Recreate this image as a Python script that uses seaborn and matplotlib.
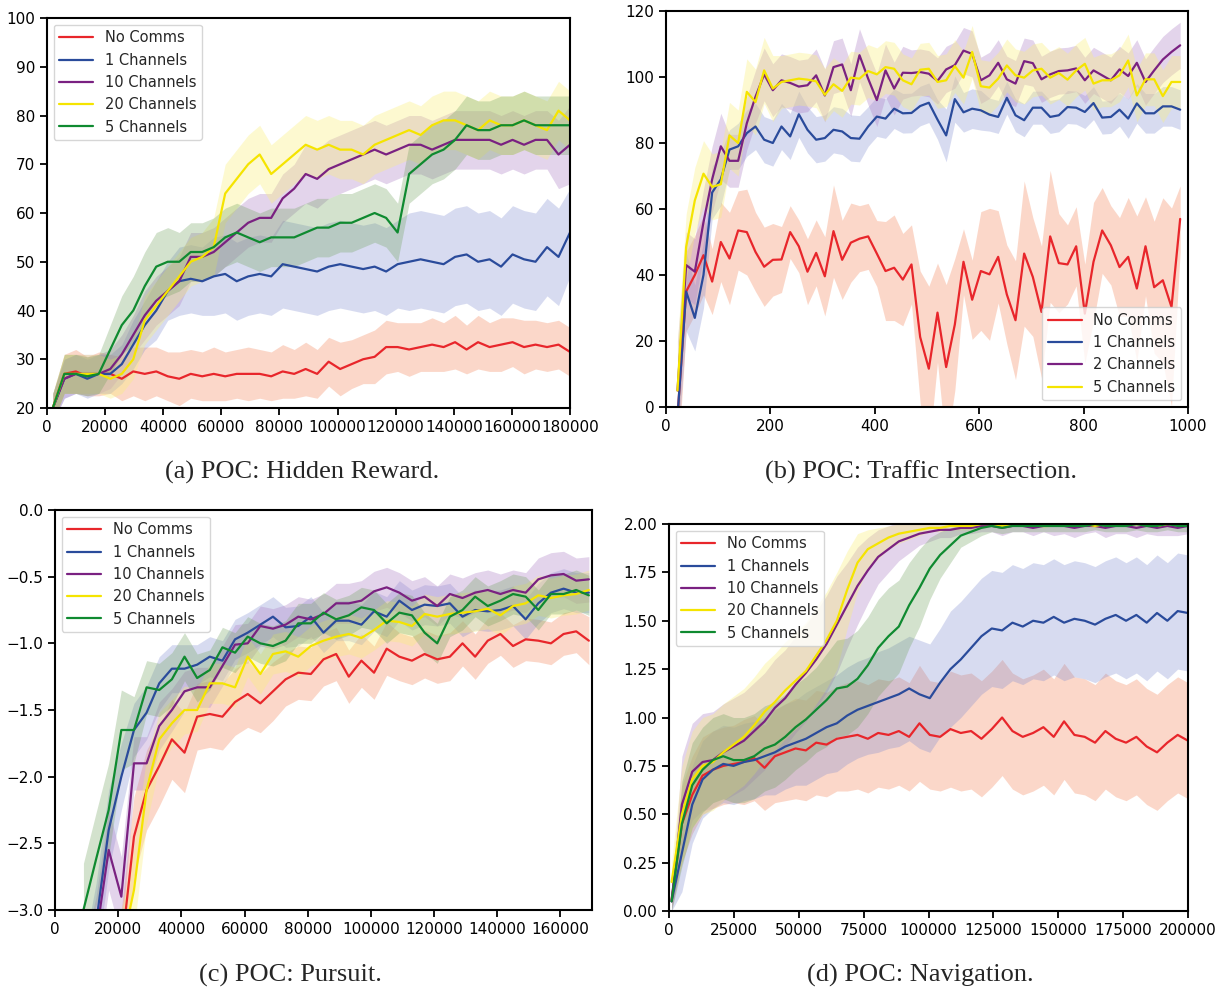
import numpy as np
import pandas as pd
import matplotlib
matplotlib.use("Agg")
import matplotlib.pyplot as plt
import seaborn as sns

# ---------------- data ----------------
# (a) Hidden Reward
x_a = np.linspace(2000, 180000, 46)
names_a = ["No Comms", "1 Channels", "10 Channels", "20 Channels", "5 Channels"]
red_a = [20, 27, 27.5, 26.5, 27, 27, 26, 27.5, 27, 27.5, 26.5, 26, 27, 26.5, 27, 26.5,
         27, 27, 27, 26.5, 27.5, 27, 28, 27, 29.5, 28, 29, 30, 30.5, 32.5, 32.5, 32,
         32.5, 33, 32.5, 33.5, 32, 33.5, 32.5, 33, 33.5, 32.5, 33, 32.5, 33, 31.5]
blue_a = [20, 26, 27, 26, 27, 27, 29, 33, 37, 40, 44, 46, 46.5, 46, 47, 47.5,
          46, 47, 47.5, 47, 49.5, 49, 48.5, 48, 49, 49.5, 49, 48.5, 49, 48, 49.5, 50,
          50.5, 50, 49.5, 51, 51.5, 50, 50.5, 49, 51.5, 50.5, 50, 53, 51, 56]
purple_a = [20, 26, 27, 27, 27, 28, 31, 35, 39, 42, 44, 46, 51, 51, 52, 54,
            56, 58, 59, 59, 63, 65, 68, 67, 69, 70, 71, 72, 73, 72, 73, 74,
            74, 73, 74, 75, 75, 75, 75, 74, 75, 74, 75, 75, 72, 74]
yellow_a = [20, 27, 27, 27, 27, 26, 27, 30, 38, 41, 44, 47, 50, 51, 53, 64,
            67, 70, 72, 68, 70, 72, 74, 73, 74, 73, 73, 72, 74, 75, 76, 77,
            76, 78, 79, 79, 78, 77, 79, 78, 78, 79, 78, 77, 81, 79]
green_a = [20, 27, 27, 26.5, 27, 32, 37, 40, 45, 49, 50, 50, 52, 52, 53, 55,
           56, 55, 54, 55, 55, 55, 56, 57, 57, 58, 58, 59, 60, 59, 56, 68,
           70, 72, 73, 75, 78, 77, 77, 78, 78, 79, 78, 78, 78, 78]
red_sd_a = [3, 4, 4.5, 4, 4.5, 4, 4.5, 5, 5.5, 5, 5, 5.5, 5, 5, 5.5, 5,
            5, 5.5, 5, 5, 5.5, 5, 5.5, 5, 5, 5.5, 5, 5, 5.5, 5.5, 5, 5.5,
            5, 5.5, 5, 5.5, 5, 5.5, 5, 5.5, 5, 5.5, 5, 5, 5, 5]
blue_sd_a = [3, 4, 4, 4, 4, 4, 4, 5, 5, 6, 6, 7, 7, 7, 8, 8,
             8, 8, 8, 8, 9, 9, 9, 9, 9, 9, 9, 9, 9, 9, 9, 10,
             10, 10, 10, 10, 10, 10, 10, 10, 10, 10, 10, 10, 10, 9]
purple_sd_a = [3, 4, 4, 4, 4, 4, 4, 4, 5, 5, 5, 5, 5, 5, 5, 5,
               5, 5, 5, 5, 5, 5, 6, 6, 6, 6, 6, 6, 6, 6, 6, 6,
               6, 6, 6, 6, 6, 6, 6, 6, 6, 6, 6, 6, 7, 8]
yellow_sd_a = [3, 4, 4, 4, 4, 4, 4, 4, 5, 5, 5, 5, 5, 5, 6, 6,
               6, 6, 6, 6, 6, 6, 6, 6, 6, 6, 6, 6, 6, 6, 6, 6,
               6, 6, 6, 6, 6, 6, 6, 6, 6, 6, 6, 6, 6, 6]
green_sd_a = [3, 4, 4, 4, 4, 5, 6, 7, 7, 7, 7, 6, 6, 6, 6, 6,
              6, 6, 6, 6, 6, 6, 6, 6, 6, 6, 6, 6, 6, 6, 6, 6,
              6, 6, 6, 6, 6, 6, 6, 6, 6, 6, 6, 6, 6, 6]

# (b) Traffic Intersection
x_b = np.linspace(22, 985, 59)
names_b = ["No Comms", "1 Channels", "2 Channels", "5 Channels"]
red_b = [-3, 35, 40, 46, 38, 50, 45, 53.5, 53, 47, 42.5, 44.6, 44.7, 53, 48.7, 41,
         46.7, 39.6, 53.3, 44.6, 49.8, 51, 51.7, 46.5, 41.2, 42.2, 38.6, 43.2, 21.2, 11.6,
         28.6, 12.1, 25, 44, 32.5, 41.2, 40.2, 45.5, 34.1, 26.3, 46.5, 39.4, 28.8, 51.7,
         43.6, 43.2, 48.7, 28.3, 44, 53.5, 49, 42.4, 45.5, 35.9, 48.7, 36.3, 38.4, 30.3, 57]
blue_b = [-3, 35, 27, 40, 65, 69, 78, 79, 83, 85, 81, 80, 85, 82, 88.7, 84,
          81, 81.5, 84, 83.5, 81.5, 81.3, 85, 88, 87.4, 90.4, 89, 89.1, 91.2, 92.2,
          87.1, 82.3, 93.3, 89.3, 90.4, 89.9, 88.6, 87.9, 93.7, 88.4, 86.9, 90.7, 90.7, 87.9,
          88.4, 90.9, 90.7, 89.4, 92.1, 87.7, 87.9, 90.1, 87.4, 92, 89, 89, 91.1, 91.1, 90.1]
purple_b = [5, 43, 41, 56, 69, 79, 74.6, 74.6, 86, 94, 100.8, 96, 99, 98.2, 97.1, 97.5,
            100.5, 94.4, 103, 103.8, 96, 106.6, 99.5, 93, 102, 96.5, 101.3, 101.2, 101.5, 101,
            98.8, 102.3, 103.6, 108, 107, 99, 100.5, 104.3, 99.3, 98, 104.8, 104.2, 99.3, 100.8,
            101.8, 102, 102.6, 99, 102, 100.5, 99, 102.3, 100.3, 104.3, 98.5, 102, 105.3, 107.6, 109.6]
yellow_b = [5, 48.5, 62.6, 70.7, 66.7, 67.5, 82.3, 80, 95.5, 92.4, 102, 96.5, 98.5, 99, 99.5, 99.2,
            98.7, 94.6, 97.8, 95.8, 99.8, 99.5, 101.8, 100.8, 103, 102.5, 99, 97.8, 102.2, 102.5,
            98.5, 99, 103.3, 99.8, 107.6, 97.2, 96.8, 99.5, 103.5, 100.5, 99.8, 102, 102.5, 99.8,
            101.2, 99.2, 102, 104, 98, 99, 99, 100.5, 105, 94.4, 99.3, 99.3, 94.2, 98.5, 98.5]
red_sd_b = [15, 12, 12, 12, 10, 12, 14, 12, 13, 12, 12, 11, 10, 8, 8, 10,
            10, 12, 14, 12, 12, 10, 10, 10, 15, 16, 14, 12, 20, 25,
            15, 25, 20, 10, 12, 18, 20, 14, 15, 18, 22, 18, 20, 20,
            15, 12, 12, 15, 18, 13, 12, 15, 18, 22, 15, 20, 25, 30, 10]
blue_sd_b = [10, 12, 10, 10, 8, 8, 6, 7, 7, 7, 7, 7, 7, 7, 7, 7,
             7, 7, 7, 7, 7, 7, 6, 6, 6, 6, 6, 6, 6, 6,
             6, 8, 7, 6, 6, 6, 5, 5, 5, 5, 5, 5, 5, 5,
             5, 5, 5, 5, 5, 5, 5, 5, 6, 6, 6, 6, 6, 6, 6]
purple_sd_b = [15, 10, 10, 10, 10, 10, 8, 8, 8, 8, 8, 8, 8, 8, 8, 8,
               8, 8, 8, 8, 8, 8, 8, 8, 8, 8, 8, 7, 7, 7,
               7, 7, 7, 7, 7, 7, 7, 7, 7, 7, 7, 7, 7, 7,
               7, 7, 7, 7, 7, 7, 7, 7, 7, 7, 7, 7, 7, 7, 7]
yellow_sd_b = [15, 10, 10, 10, 10, 10, 10, 10, 10, 10, 10, 10, 8, 8, 8, 8,
               8, 8, 8, 8, 8, 8, 8, 8, 8, 8, 8, 8, 8, 8,
               8, 8, 8, 8, 8, 8, 8, 8, 8, 8, 8, 8, 8, 8,
               8, 8, 8, 8, 8, 8, 8, 8, 8, 8, 8, 8, 8, 8, 8]

# (c) Pursuit
x_c = np.linspace(9000, 169000, 41)
names_c = ["No Comms", "1 Channels", "10 Channels", "20 Channels", "5 Channels"]
red_c = [-4.8, -4.4, -4.0, -3.3, -2.45, -2.1, -1.92, -1.72, -1.82, -1.55, -1.53, -1.55, -1.44,
         -1.38, -1.45, -1.36, -1.27, -1.22, -1.23, -1.12, -1.08, -1.25, -1.13, -1.22, -1.04,
         -1.1, -1.13, -1.08, -1.12, -1.1, -1.0, -1.1, -0.98, -0.93, -1.02, -0.97, -0.98, -1.0,
         -0.93, -0.91, -0.98]
blue_c = [-3.6, -3.1, -2.4, -2.0, -1.65, -1.52, -1.3, -1.19, -1.19, -1.16, -1.1, -1.13, -0.97,
          -0.92, -0.86, -0.8, -0.88, -0.87, -0.8, -0.92, -0.83, -0.83, -0.86, -0.76, -0.8,
          -0.68, -0.75, -0.71, -0.72, -0.7, -0.8, -0.75, -0.76, -0.75, -0.72, -0.82, -0.7,
          -0.62, -0.59, -0.62, -0.62]
purple_c = [-3.6, -3.2, -2.55, -2.9, -1.9, -1.9, -1.62, -1.5, -1.36, -1.33, -1.33, -1.17, -1.01,
            -1.0, -0.87, -0.89, -0.86, -0.8, -0.82, -0.78, -0.7, -0.7, -0.68, -0.61, -0.58,
            -0.62, -0.68, -0.65, -0.72, -0.63, -0.66, -0.62, -0.6, -0.63, -0.6, -0.62, -0.52,
            -0.49, -0.48, -0.53, -0.52]
yellow_c = [-4.5, -4.2, -3.8, -3.3, -2.85, -2.1, -1.72, -1.6, -1.5, -1.5, -1.3, -1.3, -1.33,
            -1.1, -1.23, -1.08, -1.06, -1.1, -1.02, -0.98, -0.95, -0.93, -0.96, -0.9, -0.83,
            -0.84, -0.87, -0.78, -0.8, -0.78, -0.77, -0.76, -0.74, -0.79, -0.72, -0.7, -0.64,
            -0.66, -0.64, -0.63, -0.6]
green_c = [-3.0, -2.62, -2.25, -1.65, -1.65, -1.33, -1.35, -1.27, -1.1, -1.26, -1.2, -1.03, -1.07,
           -0.95, -1.0, -1.02, -0.98, -0.85, -0.85, -0.77, -0.82, -0.79, -0.73, -0.75, -0.85,
           -0.77, -0.79, -0.92, -1.0, -0.8, -0.75, -0.65, -0.72, -0.68, -0.63, -0.65, -0.75,
           -0.63, -0.63, -0.6, -0.64]
red_sd_c = [0.3, 0.3, 0.3, 0.3, 0.3, 0.3, 0.3, 0.3, 0.3, 0.25, 0.25, 0.25, 0.25,
            0.25, 0.22, 0.22, 0.2, 0.2, 0.2, 0.2, 0.2, 0.2, 0.2, 0.2, 0.2,
            0.18, 0.18, 0.18, 0.18, 0.18, 0.17, 0.17, 0.17, 0.16, 0.16, 0.16, 0.16,
            0.16, 0.16, 0.16, 0.18]
blue_sd_c = [0.3, 0.3, 0.3, 0.25, 0.2, 0.2, 0.2, 0.18, 0.18, 0.15, 0.15, 0.15, 0.15,
             0.15, 0.15, 0.15, 0.15, 0.15, 0.15, 0.15, 0.15, 0.15, 0.15, 0.15, 0.15,
             0.15, 0.15, 0.15, 0.15, 0.15, 0.15, 0.15, 0.15, 0.15, 0.15, 0.15, 0.15,
             0.15, 0.15, 0.15, 0.15]
purple_sd_c = [0.3, 0.3, 0.3, 0.3, 0.2, 0.2, 0.18, 0.16, 0.15, 0.15, 0.15, 0.15, 0.15,
               0.15, 0.15, 0.15, 0.15, 0.15, 0.15, 0.15, 0.15, 0.15, 0.15, 0.15, 0.15,
               0.15, 0.15, 0.15, 0.15, 0.15, 0.15, 0.15, 0.15, 0.15, 0.15, 0.15, 0.16,
               0.17, 0.17, 0.17, 0.17]
yellow_sd_c = [0.3, 0.3, 0.3, 0.3, 0.3, 0.25, 0.2, 0.18, 0.18, 0.16, 0.15, 0.15, 0.15,
               0.15, 0.15, 0.15, 0.15, 0.15, 0.15, 0.15, 0.15, 0.15, 0.15, 0.15, 0.15,
               0.15, 0.15, 0.15, 0.15, 0.15, 0.15, 0.15, 0.15, 0.15, 0.15, 0.15, 0.15,
               0.15, 0.15, 0.15, 0.15]
green_sd_c = [0.35, 0.35, 0.35, 0.3, 0.25, 0.2, 0.2, 0.2, 0.18, 0.18, 0.15, 0.15, 0.15,
              0.15, 0.15, 0.15, 0.15, 0.15, 0.15, 0.15, 0.15, 0.15, 0.15, 0.15, 0.15,
              0.15, 0.15, 0.15, 0.15, 0.15, 0.15, 0.15, 0.15, 0.15, 0.15, 0.15, 0.15,
              0.15, 0.15, 0.15, 0.15]

# (d) Navigation
x_d = np.linspace(1000, 200000, 51)
names_d = ["No Comms", "1 Channels", "10 Channels", "20 Channels", "5 Channels"]
red_d = [0.06, 0.45, 0.6, 0.7, 0.73, 0.75, 0.76, 0.77, 0.79, 0.74, 0.8, 0.82, 0.84,
         0.83, 0.87, 0.86, 0.89, 0.9, 0.91, 0.89, 0.92, 0.91, 0.93, 0.9, 0.97, 0.91,
         0.9, 0.94, 0.92, 0.93, 0.89, 0.94, 1.0, 0.93, 0.9, 0.92, 0.95, 0.9, 0.98,
         0.91, 0.9, 0.87, 0.93, 0.89, 0.87, 0.9, 0.85, 0.82, 0.87, 0.91, 0.88]
blue_d = [0.05, 0.3, 0.55, 0.68, 0.73, 0.76, 0.75, 0.77, 0.78, 0.8, 0.82, 0.85, 0.87,
          0.89, 0.92, 0.95, 0.97, 1.01, 1.04, 1.06, 1.08, 1.1, 1.12, 1.15, 1.12, 1.1,
          1.18, 1.25, 1.3, 1.36, 1.42, 1.46, 1.45, 1.49, 1.47, 1.5, 1.49, 1.52, 1.49,
          1.51, 1.5, 1.48, 1.51, 1.53, 1.5, 1.53, 1.49, 1.54, 1.5, 1.55, 1.54]
purple_d = [0.05, 0.55, 0.72, 0.77, 0.78, 0.82, 0.85, 0.88, 0.93, 0.98, 1.05, 1.1, 1.17,
            1.23, 1.3, 1.38, 1.48, 1.58, 1.68, 1.76, 1.83, 1.87, 1.91, 1.93, 1.95, 1.96,
            1.97, 1.97, 1.98, 1.98, 1.99, 1.99, 1.98, 1.99, 1.99, 1.98, 1.99, 1.99, 1.99,
            1.98, 1.99, 1.99, 1.98, 1.99, 1.99, 1.98, 1.99, 1.98, 1.99, 1.98, 1.99]
yellow_d = [0.15, 0.5, 0.68, 0.75, 0.77, 0.82, 0.86, 0.9, 0.96, 1.03, 1.08, 1.14, 1.19,
            1.24, 1.32, 1.4, 1.5, 1.66, 1.8, 1.87, 1.9, 1.93, 1.95, 1.96, 1.97, 1.98,
            1.98, 1.99, 1.99, 1.99, 2.0, 2.0, 1.99, 2.0, 2.0, 2.0, 1.99, 2.0, 2.0,
            2.0, 2.0, 1.99, 2.0, 2.0, 2.0, 2.0, 2.0, 1.99, 2.0, 2.0, 2.0]
green_d = [0.05, 0.45, 0.65, 0.73, 0.78, 0.8, 0.78, 0.78, 0.8, 0.84, 0.86, 0.9, 0.95,
           0.99, 1.04, 1.09, 1.15, 1.16, 1.2, 1.27, 1.36, 1.42, 1.47, 1.58, 1.67, 1.77,
           1.84, 1.89, 1.94, 1.96, 1.98, 1.99, 1.98, 1.99, 1.99, 1.99, 1.99, 1.99, 1.99,
           1.99, 1.99, 2.0, 1.99, 1.99, 1.99, 2.0, 1.99, 1.99, 2.0, 1.99, 1.99]
red_sd_d = [0.05, 0.2, 0.2, 0.2, 0.2, 0.2, 0.2, 0.22, 0.22, 0.22, 0.24, 0.25, 0.26,
            0.26, 0.27, 0.27, 0.27, 0.28, 0.28, 0.28, 0.28, 0.28, 0.28, 0.28, 0.3, 0.28,
            0.28, 0.3, 0.3, 0.3, 0.3, 0.3, 0.3, 0.3, 0.3, 0.3, 0.3, 0.3, 0.3,
            0.3, 0.3, 0.3, 0.3, 0.3, 0.3, 0.3, 0.3, 0.3, 0.3, 0.3, 0.3]
blue_sd_d = [0.05, 0.2, 0.2, 0.2, 0.2, 0.2, 0.2, 0.2, 0.2, 0.2, 0.22, 0.22, 0.22,
             0.24, 0.24, 0.24, 0.25, 0.25, 0.25, 0.25, 0.26, 0.26, 0.27, 0.27, 0.28, 0.28,
             0.28, 0.3, 0.3, 0.3, 0.3, 0.3, 0.3, 0.3, 0.3, 0.3, 0.3, 0.3, 0.3,
             0.3, 0.3, 0.3, 0.3, 0.3, 0.3, 0.3, 0.3, 0.3, 0.3, 0.3, 0.3]
purple_sd_d = [0.05, 0.25, 0.25, 0.25, 0.25, 0.25, 0.25, 0.25, 0.25, 0.25, 0.25, 0.25, 0.25,
               0.25, 0.25, 0.25, 0.25, 0.22, 0.2, 0.17, 0.14, 0.12, 0.1, 0.08, 0.06, 0.05,
               0.04, 0.04, 0.03, 0.03, 0.03, 0.03, 0.04, 0.03, 0.03, 0.04, 0.03, 0.05, 0.04,
               0.05, 0.04, 0.03, 0.05, 0.04, 0.04, 0.05, 0.04, 0.04, 0.05, 0.04, 0.04]
yellow_sd_d = [0.1, 0.25, 0.25, 0.25, 0.25, 0.25, 0.25, 0.25, 0.25, 0.25, 0.25, 0.25, 0.25,
               0.25, 0.25, 0.25, 0.25, 0.2, 0.15, 0.1, 0.08, 0.06, 0.05, 0.04, 0.03, 0.02,
               0.02, 0.02, 0.02, 0.02, 0.01, 0.01, 0.01, 0.01, 0.01, 0.01, 0.01, 0.01, 0.01,
               0.01, 0.01, 0.01, 0.01, 0.01, 0.01, 0.01, 0.01, 0.01, 0.01, 0.01, 0.01]
green_sd_d = [0.05, 0.22, 0.22, 0.22, 0.22, 0.22, 0.22, 0.22, 0.22, 0.22, 0.22, 0.22, 0.22,
              0.22, 0.22, 0.24, 0.25, 0.25, 0.25, 0.25, 0.25, 0.25, 0.24, 0.22, 0.2, 0.16,
              0.12, 0.09, 0.06, 0.05, 0.04, 0.03, 0.03, 0.03, 0.03, 0.03, 0.03, 0.03, 0.03,
              0.03, 0.03, 0.03, 0.03, 0.03, 0.03, 0.03, 0.03, 0.03, 0.03, 0.03, 0.03]

captions = ["(a) POC: Hidden Reward.", "(b) POC: Traffic Intersection.",
            "(c) POC: Pursuit.", "(d) POC: Navigation."]

# ---------------- style ----------------
RED, BLUE, PURPLE, YELLOW, GREEN = "#e8262b", "#2a4b9b", "#7a2181", "#f5e400", "#0f8a30"
FILLS = {RED: ("#f7a889", 0.45), BLUE: ("#7d8ad0", 0.3), PURPLE: ("#b084c8", 0.35),
         YELLOW: ("#faf07a", 0.35), GREEN: ("#6ea05a", 0.3)}

sns.set_theme(style="ticks")
plt.rcParams["font.family"] = ["DejaVu Sans"]
plt.rcParams["axes.unicode_minus"] = True
plt.rcParams["axes.edgecolor"] = "black"
plt.rcParams["xtick.color"] = "black"
plt.rcParams["ytick.color"] = "black"

W, H = 1226, 992
fig = plt.figure(figsize=(W / 100, H / 100), dpi=100)


def add_panel(box, x, means, spreads, names, colors, xlim, ylim, xticks, yticks,
              legend_loc):
    left, top, right, bottom = box
    ax = fig.add_axes([left / W, 1 - bottom / H, (right - left) / W, (bottom - top) / H])
    for m, s, c in zip(means, spreads, colors):
        m = np.asarray(m, float)
        s = np.asarray(s, float)
        fc, al = FILLS[c]
        ax.fill_between(x, m - s, m + s, color=fc, alpha=al, linewidth=0)
    df = pd.DataFrame({
        "step": np.tile(x, len(names)),
        "value": np.concatenate([np.asarray(m, float) for m in means]),
        "run": np.repeat(names, len(x)),
    })
    sns.lineplot(data=df, x="step", y="value", hue="run", hue_order=names,
                 palette=dict(zip(names, colors)), linewidth=1.6, ax=ax,
                 errorbar=None)
    ax.set_xlim(*xlim)
    ax.set_ylim(*ylim)
    ax.set_xticks(xticks)
    ax.set_yticks(yticks)
    ax.set_xlabel("")
    ax.set_ylabel("")
    ax.tick_params(labelsize=11, length=5, width=1.3, direction="out")
    for sp in ax.spines.values():
        sp.set_linewidth(1.5)
        sp.set_color("black")
    handles, labels = ax.get_legend_handles_labels()
    ax.legend(handles, labels, loc=legend_loc, fontsize=10.5, handlelength=2.3,
              frameon=True, borderaxespad=0.45)
    return ax


add_panel((47, 18, 570, 408), x_a, [red_a, blue_a, purple_a, yellow_a, green_a],
          [red_sd_a, blue_sd_a, purple_sd_a, yellow_sd_a, green_sd_a], names_a,
          [RED, BLUE, PURPLE, YELLOW, GREEN], (0, 180000), (20, 100),
          np.arange(0, 180001, 20000), np.arange(20, 101, 10), "upper left")

add_panel((666, 11, 1188, 407), x_b, [red_b, blue_b, purple_b, yellow_b],
          [red_sd_b, blue_sd_b, purple_sd_b, yellow_sd_b], names_b,
          [RED, BLUE, PURPLE, YELLOW], (0, 1000), (0, 120),
          np.arange(0, 1001, 200), np.arange(0, 121, 20), "lower right")

add_panel((55, 510, 592, 910), x_c, [red_c, blue_c, purple_c, yellow_c, green_c],
          [red_sd_c, blue_sd_c, purple_sd_c, yellow_sd_c, green_sd_c], names_c,
          [RED, BLUE, PURPLE, YELLOW, GREEN], (0, 170000), (-3, 0),
          np.arange(0, 160001, 20000), np.linspace(-3, 0, 7), "upper left")

add_panel((669, 524, 1188, 911), x_d, [red_d, blue_d, purple_d, yellow_d, green_d],
          [red_sd_d, blue_sd_d, purple_sd_d, yellow_sd_d, green_sd_d], names_d,
          [RED, BLUE, PURPLE, YELLOW, GREEN], (0, 200000), (0, 2),
          np.arange(0, 200001, 25000), np.linspace(0, 2, 9), "upper left")

cap_pos = [(302, 472), (921, 472), (290, 975), (920, 975)]
for (cx, cy), text in zip(cap_pos, captions):
    fig.text(cx / W, 1 - cy / H, text, ha="center", va="center",
             family="Liberation Serif", fontsize=19)

fig.savefig("out.png", dpi=100)
